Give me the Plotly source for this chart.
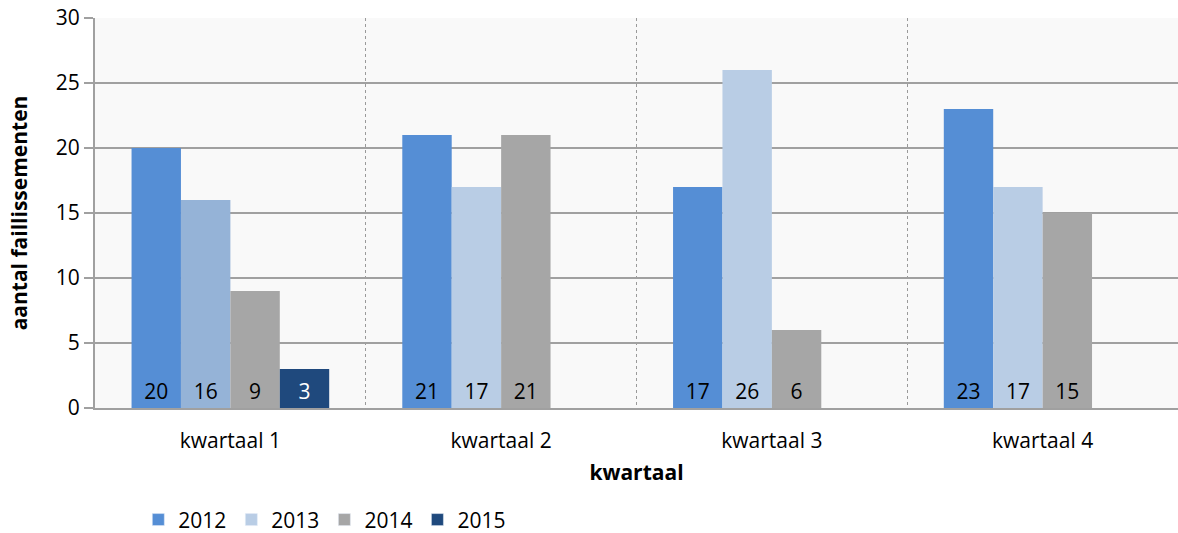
import plotly.graph_objects as go

categories = ["kwartaal 1", "kwartaal 2", "kwartaal 3", "kwartaal 4"]
years = ["2012", "2013", "2014", "2015"]
v2012 = [20, 21, 17, 23]
v2013 = [16, 17, 26, 17]
v2014 = [9, 21, 6, 15]
v2015 = [3, None, None, None]

series = [v2012, v2013, v2014, v2015]
colors = ["#558ED5", ["#95B3D7", "#B9CDE5", "#B9CDE5", "#B9CDE5"], "#A6A6A6", "#1F497D"]
legend_colors = ["#558ED5", "#B9CDE5", "#A6A6A6", "#1F497D"]
text_colors = ["black", "black", "black", "white"]

FONT = "Open Sans"
FS = 21

fig = go.Figure()
for name, vals, col, tcol in zip(years, series, colors, text_colors):
    fig.add_trace(go.Bar(
        x=categories, y=vals, name=name,
        marker=dict(color=col, line=dict(width=0)),
        text=[("" if v is None else str(v)) for v in vals],
        textposition="inside", insidetextanchor="start",
        textangle=0, constraintext="none",
        textfont=dict(color=tcol, size=FS, family=FONT),
        showlegend=False,
    ))
# legend entries with a uniform colour each, on a hidden axis so they take no bar slot
for name, lcol in zip(years, legend_colors):
    fig.add_trace(go.Bar(x=[None], y=[None], name=name, marker=dict(color=lcol),
                         xaxis="x2", yaxis="y2", showlegend=True))

fig.update_layout(
    width=1178, height=533,
    barmode="group", bargap=0.27, bargroupgap=0,
    margin=dict(l=95, r=0, t=18, b=125, autoexpand=False),
    paper_bgcolor="white", plot_bgcolor="#F9F9F9",
    font=dict(family=FONT, size=FS, color="black"),
    legend=dict(orientation="h", x=0.04, xanchor="left", y=-0.287, yanchor="middle",
                font=dict(size=FS, family=FONT), itemwidth=30, traceorder="normal"),
    xaxis=dict(
        title=dict(text="<b>kwartaal</b>", font=dict(size=21, family=FONT), standoff=12),
        tickfont=dict(size=FS, family=FONT), automargin=False, ticklabelstandoff=13,
        tickson="boundaries", showgrid=True, gridcolor="#9A9A9A", griddash="dot", gridwidth=1,
        showline=True, linecolor="#A0A0A0", linewidth=2, ticks="", ticklen=0,
    ),
    yaxis=dict(
        title=dict(text="<b>aantal faillissementen</b>", font=dict(size=21, family=FONT), standoff=22),
        range=[0, 30], dtick=5, tickfont=dict(size=FS, family=FONT), automargin=False,
        showgrid=True, gridcolor="#A0A0A0", gridwidth=2,
        showline=True, linecolor="#A0A0A0", linewidth=2,
        ticks="outside", ticklen=9, tickcolor="#A0A0A0", tickwidth=2,
        zeroline=False,
    ),
    xaxis2=dict(visible=False, overlaying="x"),
    yaxis2=dict(visible=False, overlaying="y"),
)

fig.write_html("out.html", config={"displayModeBar": False},
               post_script="document.body.style.margin='0';")
